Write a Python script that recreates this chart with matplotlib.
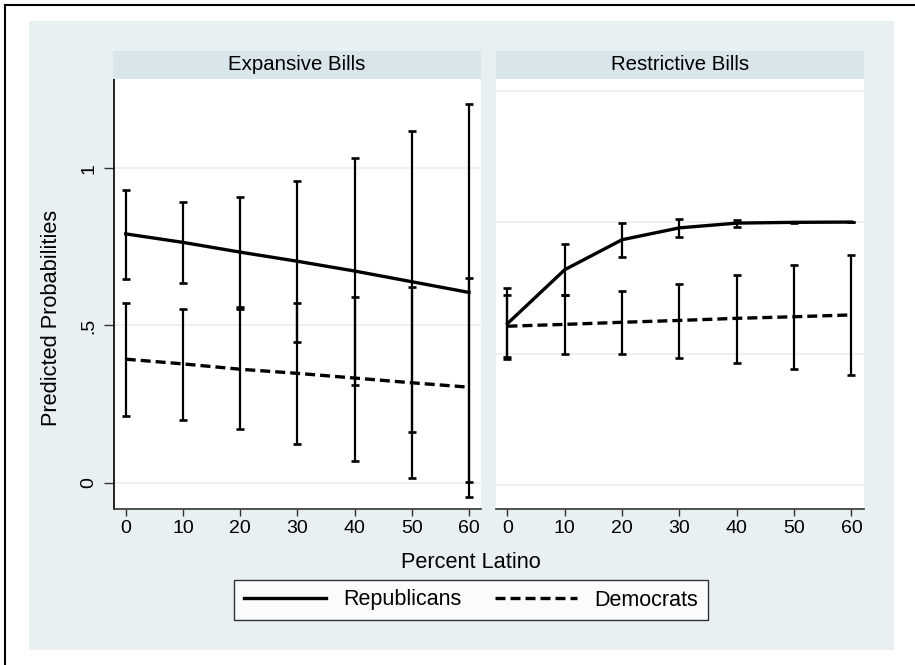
import matplotlib.pyplot as plt
from matplotlib.lines import Line2D
from matplotlib.patches import Rectangle

plt.rcParams["font.family"] = ["Liberation Sans", "DejaVu Sans"]

pct_latino = [0, 10, 20, 30, 40, 50, 60]

# Expansive bills
exp_rep = [0.791, 0.764, 0.733, 0.704, 0.673, 0.639, 0.605]
exp_rep_lo = [0.648, 0.635, 0.560, 0.447, 0.311, 0.161, 0.004]
exp_rep_hi = [0.930, 0.891, 0.907, 0.960, 1.033, 1.117, 1.205]
exp_dem = [0.393, 0.378, 0.361, 0.348, 0.333, 0.318, 0.304]
exp_dem_lo = [0.211, 0.201, 0.171, 0.124, 0.071, 0.015, -0.045]
exp_dem_hi = [0.572, 0.553, 0.553, 0.570, 0.591, 0.621, 0.651]

# Restrictive bills
res_rep = [0.614, 0.819, 0.933, 0.978, 0.996, 0.999, 1.000]
res_rep_lo = [0.480, 0.721, 0.866, 0.945, 0.981, 0.996, 0.999]
res_rep_hi = [0.751, 0.915, 0.997, 1.013, 1.006, 1.001, 1.001]
res_dem = [0.604, 0.611, 0.619, 0.626, 0.634, 0.640, 0.647]
res_dem_lo = [0.487, 0.500, 0.497, 0.485, 0.466, 0.443, 0.418]
res_dem_hi = [0.721, 0.722, 0.738, 0.763, 0.797, 0.835, 0.873]

panel_titles = ["Expansive Bills", "Restrictive Bills"]

W, H = 915, 665
fig = plt.figure(figsize=(W / 100, H / 100), dpi=100)
fig.patch.set_facecolor("white")

bg = "#e8f0f2"
strip_col = "#d8e5ea"
grid_col = "#eaf2f3"

# outer background + frame lines
fig.add_artist(Rectangle((29 / W, 1 - 650 / H), (894 - 29) / W, (650 - 21) / H,
                         transform=fig.transFigure, facecolor=bg, edgecolor="none", zorder=0))
fig.add_artist(Line2D([5 / W, 1], [1 - 5 / H, 1 - 5 / H], transform=fig.transFigure,
                      color="black", lw=1.5))
fig.add_artist(Line2D([5 / W, 5 / W], [1 - 5 / H, 0], transform=fig.transFigure,
                      color="black", lw=1.5))


def fx(px):
    return px / W


def fy(py):
    return 1 - py / H


ax_l = fig.add_axes([fx(114.3), fy(509), fx(481) - fx(114.3), fy(79) - fy(509)])
ax_r = fig.add_axes([fx(496), fy(509), fx(863.5) - fx(496), fy(79) - fy(509)])

panels = [
    (ax_l, exp_rep, exp_rep_lo, exp_rep_hi, exp_dem, exp_dem_lo, exp_dem_hi),
    (ax_r, res_rep, res_rep_lo, res_rep_hi, res_dem, res_dem_lo, res_dem_hi),
]

lw_main = 2.4
for ax, rep, rlo, rhi, dem, dlo, dhi in panels:
    ax.set_facecolor("white")
    ax.set_xlim(-2, 62.1)
    for y, lo, hi in [(rep, rlo, rhi), (dem, dlo, dhi)]:
        ax.errorbar(pct_latino, y,
                    yerr=[[a - b for a, b in zip(y, lo)], [b - a for a, b in zip(y, hi)]],
                    fmt="none", ecolor="black", elinewidth=1.6, capsize=3.2,
                    capthick=1.9, zorder=3)
    ax.plot(pct_latino, rep, color="black", lw=lw_main, zorder=4, label="Republicans")
    ax.plot(pct_latino, dem, color="black", lw=lw_main, dashes=(3.0, 1.5), zorder=4,
            label="Democrats")
    ax.set_xticks(pct_latino)
    ax.tick_params(axis="x", labelsize=14, length=5, width=1, color="#333333", pad=3)
    ax.spines["top"].set_visible(False)
    ax.spines["right"].set_visible(False)
    ax.spines["bottom"].set_color("#333333")
    ax.spines["bottom"].set_linewidth(1.2)
    ax.grid(axis="y", color=grid_col, lw=1.5, zorder=0)
    ax.set_axisbelow(True)

ax_l.set_ylim(-0.083, 1.283)
ax_l.set_yticks([0, 0.5, 1])
ax_l.set_yticklabels(["0", ".5", "1"], rotation=90, va="center")
ax_l.tick_params(axis="y", labelsize=14, length=7, width=1, color="#333333", pad=5)
ax_l.spines["left"].set_color("black")
ax_l.spines["left"].set_linewidth(1.2)

ax_r.set_ylim(-0.091, 1.544)
ax_r.set_yticks([0, 0.5, 1, 1.5])
ax_r.tick_params(axis="y", left=False, labelleft=False)
ax_r.spines["left"].set_visible(False)

# strips
for (x0, x1), title in zip([(113, 481), (496, 864)], panel_titles):
    sax = fig.add_axes([fx(x0), fy(79), fx(x1) - fx(x0), fy(51) - fy(79)])
    sax.set_facecolor(strip_col)
    sax.set_xticks([])
    sax.set_yticks([])
    for s in sax.spines.values():
        s.set_visible(False)
    sax.text(0.5, 0.5, title, ha="center", va="center", fontsize=14.7,
             transform=sax.transAxes)

fig.text(fx(52), fy(318), "Predicted Probabilities", rotation=90, ha="center",
         va="center", fontsize=15.7)
fig.text(fx(471), fy(563), "Percent Latino", ha="center", va="center", fontsize=15.7)

handles, labels = ax_l.get_legend_handles_labels()
leg = fig.legend(handles, labels, loc="center", bbox_to_anchor=(fx(471), fy(600)),
                 ncol=2, fontsize=15.5, frameon=True, fancybox=False, handlelength=3.8,
                 handletextpad=0.8, columnspacing=1.6, borderpad=0.45)
leg.get_frame().set_edgecolor("black")
leg.get_frame().set_linewidth(1.0)
leg.get_frame().set_facecolor("white")

fig.savefig("out.png", dpi=100, facecolor="white")
